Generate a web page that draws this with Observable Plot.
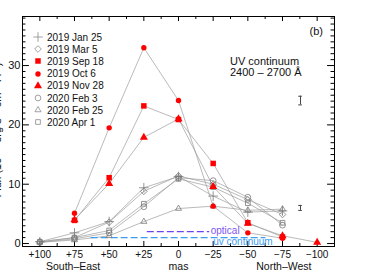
<!DOCTYPE html>
<html><head><meta charset="utf-8">
<script src="https://cdn.jsdelivr.net/npm/d3@7"></script>
<script src="https://cdn.jsdelivr.net/npm/@observablehq/plot@0.6"></script>
<style>
body{margin:0;background:#fff;font-family:"Liberation Sans",Arial,Helvetica,sans-serif;}
#wrap{position:relative;width:380px;height:280px;overflow:hidden;background:#fff;}
#wrap svg{display:block;}
.ov{position:absolute;color:#111;white-space:nowrap;}
#legend{left:32px;top:31px;font-size:10px;}
#legend .row{display:flex;align-items:center;height:12.2px;}
#legend svg{width:12px;height:12px;margin-right:3px;overflow:visible;}
#ylab{left:-4.5px;top:130px;font-size:11px;line-height:13px;transform:translate(-50%,-50%) rotate(-90deg);}
</style></head><body><div id="wrap"></div>
<script>
// ---- data ----
const offsets = [100, 75, 50, 25, 0, -25, -50, -75, -100];
const seriesNames = ["2019 Jan 25", "2019 Mar 5", "2019 Sep 18", "2019 Oct 6", "2019 Nov 28", "2020 Feb 3", "2020 Feb 25", "2020 Apr 1"];
const jan25 = [0.3, 1.8, 3.7, 9.4, 11.3, 8.0, 5.3, 5.5, null];
const mar5  = [0.3, 1.0, 3.6, 8.8, 11.4, 10.0, 7.4, 4.9, null];
const sep18 = [null, 3.9, 11.1, 23.2, 20.9, 13.5, 3.5, 1.1, null];
const oct6  = [null, 5.1, 19.5, 33.0, 24.1, 6.3, 1.8, 0.9, null];
const nov28 = [null, 4.0, 10.1, 17.9, 21.0, 9.6, 3.4, 1.3, 0.2];
const feb3  = [0.2, 0.8, 1.8, 6.2, 11.1, 10.6, 7.8, 3.1, null];
const feb25 = [0.2, 0.6, 1.3, 3.7, 5.9, 6.3, 5.6, 5.8, null];
const apr1  = [0.3, 1.0, 2.2, 6.7, 10.9, 9.5, 6.8, 3.5, null];
const seriesValues = [jan25, mar5, sep18, oct6, nov28, feb3, feb25, apr1];

const xTickValues = [100, 75, 50, 25, 0, -25, -50, -75, -100];
const xMinorTicks = [87.5, 62.5, 37.5, 12.5, -12.5, -37.5, -62.5, -87.5];
const yTickValues = [0, 10, 20, 30];
const yMinorTicks = d3.range(0, 39).filter(v => v % 10 !== 0);
const xNames = ["South–East", "mas", "North–West"];
const xNamePos = [76, 0, -76];

const resLabels = ["optical", "uv continuum"];
const resHalfWidth = [22.5, 63];
const resLevel = [2.0, 1.0];

const errX = [-88, -88];
const errY = [24.1, 6.0];
const errSize = [0.73, 0.42];

// ---- styles ----
const red = "#ff0000", grayMark = "#7a7a7a";
const seriesStyle = [
  {symbol: "plus", fill: "none", stroke: grayMark, r: 3.2},
  {symbol: "diamond2", fill: "none", stroke: grayMark, r: 3.0},
  {symbol: "square", fill: red, stroke: "none", r: 3.1},
  {symbol: "circle", fill: red, stroke: "none", r: 2.7},
  {symbol: "triangle", fill: red, stroke: "none", r: 3.0},
  {symbol: "circle", fill: "none", stroke: grayMark, r: 2.9},
  {symbol: "triangle2", fill: "none", stroke: grayMark, r: 2.9},
  {symbol: "square2", fill: "none", stroke: grayMark, r: 3.0}
];

const rows = [];
seriesValues.forEach((vals, s) => vals.forEach((v, i) => {
  if (v != null) rows.push({series: seriesNames[s], s, x: offsets[i], y: v});
}));

const X0 = 112.5, Y0 = -0.5, Y1 = 38.27;
const fmt = d => d > 0 ? "+" + d : d < 0 ? "−" + (-d) : "0";

const tickMarks = (vals, kind, len) => {
  if (kind === "bottom") return Plot.ruleX(vals, {x: d => d, y1: Y0, y2: Y0 + len, stroke: "black", strokeWidth: 1});
  if (kind === "top") return Plot.ruleX(vals, {x: d => d, y1: Y1, y2: Y1 - len, stroke: "black", strokeWidth: 1});
  if (kind === "left") return Plot.ruleY(vals, {y: d => d, x1: X0, x2: X0 - len, stroke: "black", strokeWidth: 1});
  return Plot.ruleY(vals, {y: d => d, x1: -X0, x2: -X0 + len, stroke: "black", strokeWidth: 1});
};

const errIdx = d3.range(errX.length);

const plot = Plot.plot({
  width: 380, height: 280,
  marginLeft: 22, marginRight: 46, marginTop: 16, marginBottom: 34,
  style: {fontFamily: "'Liberation Sans', Arial, sans-serif", background: "white", color: "#111", overflow: "visible"},
  x: {domain: [X0, -X0], axis: null},
  y: {domain: [Y0, Y1], axis: null},
  marks: [
    tickMarks(xTickValues, "bottom", 0.85),
    tickMarks(xMinorTicks, "bottom", 0.5),
    tickMarks(xTickValues, "top", 0.85),
    tickMarks(xMinorTicks, "top", 0.5),
    tickMarks(yTickValues, "left", 5.0),
    tickMarks(yMinorTicks, "left", 2.5),
    tickMarks(yTickValues, "right", 5.0),
    tickMarks(yMinorTicks, "right", 2.5),
    Plot.axisX({ticks: xTickValues, tickSize: 0, tickPadding: 4, tickFormat: fmt, fontSize: 10, label: null}),
    Plot.axisY({ticks: yTickValues, tickSize: 0, tickPadding: 2, fontSize: 11, label: null}),
    Plot.text(xNames, {x: (d, i) => xNamePos[i], text: d => d, frameAnchor: "bottom", dy: 23, fontSize: 10.5, fill: "#111"}),
    Plot.line(rows, {x: "x", y: "y", z: "series", stroke: "#9c9c9c", strokeWidth: 0.7}),
    Plot.ruleY([0], {y: () => resLevel[0], x1: () => resHalfWidth[0], x2: () => -resHalfWidth[0], stroke: "#6a44ee", strokeWidth: 1.2, strokeDasharray: "7,3"}),
    Plot.ruleY([1], {y: () => resLevel[1], x1: () => resHalfWidth[1], x2: () => -resHalfWidth[1], stroke: "#3d9cf0", strokeWidth: 1.2, strokeDasharray: "7,3"}),
    Plot.text([0], {x: () => -resHalfWidth[0], y: () => resLevel[0], text: () => resLabels[0], textAnchor: "start", lineAnchor: "bottom", dx: 1, dy: 2, fontSize: 10, fill: "#7d55f5"}),
    Plot.text([1], {x: () => -25, y: () => resLevel[1], text: () => resLabels[1], textAnchor: "start", lineAnchor: "top", dy: 0, fontSize: 10, fill: "#3d9cf0"}),
    Plot.ruleX(errIdx, {x: i => errX[i], y1: i => errY[i] - errSize[i], y2: i => errY[i] + errSize[i], stroke: "#444", strokeWidth: 1}),
    Plot.ruleY(errIdx, {y: i => errY[i] - errSize[i], x1: i => errX[i] + 1.3, x2: i => errX[i] - 1.3, stroke: "#444", strokeWidth: 1}),
    Plot.ruleY(errIdx, {y: i => errY[i] + errSize[i], x1: i => errX[i] + 1.3, x2: i => errX[i] - 1.3, stroke: "#444", strokeWidth: 1}),
    ...[0, 1, 5, 6, 7, 2, 4, 3].map(s => Plot.dot(rows.filter(r => r.s === s), {
      x: "x", y: "y", symbol: seriesStyle[s].symbol, r: seriesStyle[s].r,
      fill: seriesStyle[s].fill, stroke: seriesStyle[s].stroke, strokeWidth: 0.8
    })),
    Plot.frame({stroke: "black", strokeWidth: 1})
  ]
});

const wrap = document.getElementById("wrap");
wrap.appendChild(plot);

// legend
const symMap = {plus: d3.symbolPlus, diamond2: d3.symbolDiamond2, square: d3.symbolSquare, circle: d3.symbolCircle, triangle: d3.symbolTriangle, triangle2: d3.symbolTriangle2, square2: d3.symbolSquare2};
const legend = document.createElement("div");
legend.id = "legend"; legend.className = "ov";
seriesNames.forEach((name, s) => {
  const st = seriesStyle[s];
  const path = d3.symbol(symMap[st.symbol], Math.PI * st.r * st.r)();
  const row = document.createElement("div");
  row.className = "row";
  row.innerHTML = `<svg viewBox="-6 -6 12 12"><path d="${path}" fill="${st.fill}" stroke="${st.fill === "none" ? "#8a8a8a" : "none"}" stroke-width="0.8"/></svg><span>${name}</span>`;
  legend.appendChild(row);
});
wrap.appendChild(legend);

const addText = (html, css) => {
  const d = document.createElement("div");
  d.className = "ov"; d.innerHTML = html; d.style.cssText = css;
  wrap.appendChild(d);
  return d;
};
addText("(b)", "right:57px;top:26px;font-size:11px;line-height:11px;");
addText("UV continuum<br>2400 – 2700 Å", "left:230px;top:56px;font-size:11px;line-height:11px;");
const yl = addText("Flux (10<sup style='font-size:7px'>−15</sup> erg s<sup style='font-size:7px'>−1</sup> cm<sup style='font-size:7px'>−2</sup> Å<sup style='font-size:7px'>−1</sup>)", "");
yl.id = "ylab";
</script>
</body></html>
